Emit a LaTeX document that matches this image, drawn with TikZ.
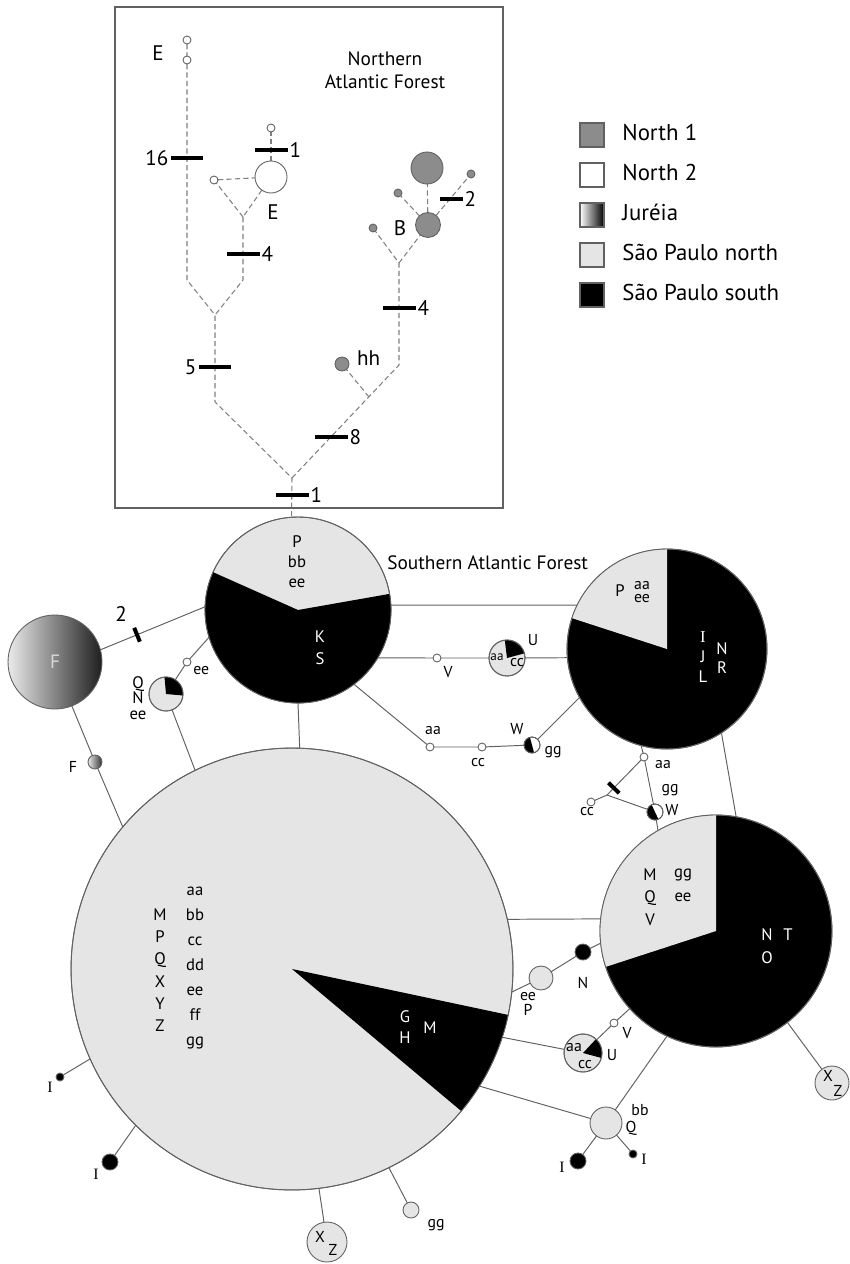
\documentclass[tikz,border=0pt]{standalone}
\usepackage{fontspec}
\setmainfont{PT Sans}
\newfontfamily\romanI{Liberation Serif}
\usetikzlibrary{positioning,backgrounds}

\definecolor{spnorth}{gray}{0.9}
\definecolor{north1}{gray}{0.55}
\definecolor{rim}{gray}{0.38}
\definecolor{treeline}{gray}{0.5}

\newcommand{\fbig}{\fontsize{12}{14}\selectfont}
\newcommand{\fmid}{\fontsize{11}{13}\selectfont}
\newcommand{\fkey}{\fontsize{13}{15}\selectfont}
\newcommand{\fin}{\fontsize{9.5}{12}\selectfont}
\newcommand{\fsm}{\fontsize{9}{10}\selectfont}
\newcommand{\pie}[5]{%
  \fill[#5] (#1.center) -- (#1.#2) arc[start angle=#2, end angle=#3, radius=#4*0.02cm] -- cycle;
  \draw[rim, line width=0.5pt] (#1.center) circle[radius=#4*0.02cm];}

\begin{document}
\begin{tikzpicture}[x=0.02cm, y=-0.02cm,
  hap/.style={circle, draw=rim, line width=0.5pt, inner sep=0pt, outer sep=0pt, minimum size=#1*0.04cm},
  mut/.style={fill=black, inner sep=0pt, outer sep=0pt, minimum width=0.66cm, minimum height=0.07cm},
  bar/.style={fill=black, inner sep=0pt, minimum width=0.08cm, minimum height=0.3cm, sloped},
  tree/.style={draw=treeline, line width=0.6pt, dash pattern=on 3pt off 1.8pt},
  link/.style={draw=rim, line width=0.55pt},
  num/.style={font=\fbig, inner sep=1pt},
  lbl/.style={font=\fsm, inner sep=0pt},
  inl/.style={font=\fin, inner sep=0pt, align=center},
  key/.style={draw=rim, line width=0.6pt, minimum size=0.48cm, inner sep=0pt},
  keytxt/.style={font=\fkey, inner sep=0pt, text height=9pt, text depth=2.5pt, right=0.35cm of #1}]
\useasboundingbox (0,0) rectangle (849,1264);

\draw[rim, line width=0.8pt] (115,7) rectangle (503,508);
\node[font=\fmid, align=center, inner sep=0pt] (north) at (385,70) {Northern\\Atlantic Forest};

% northern tree
\node[hap=4, fill=white] (e1) at (187,40) {};
\node[hap=4, fill=white] (e2) at (187,60) {};
\node[num] (le1) at (158,53) {E};
\node[mut, label={[num]left:16}] (m16) at (187,158) {};
\coordinate (j1) at (187,280);
\coordinate (j2) at (215,315);
\coordinate (j3) at (243,280);
\coordinate (j4) at (243,217);
\node[mut, label={[num]right:4}] (m4a) at (243,254) {};
\node[hap=4, fill=white] (sE) at (214,180) {};
\node[hap=16, fill=white] (bigE) at (271,177) {};
\node[num] (le2) at (273,212) {E};
\node[hap=4, fill=white] (sE1) at (271,128) {};
\node[mut, label={[num]right:1}] (m1a) at (271,150) {};
\coordinate (j5) at (215,402);
\node[mut, label={[num]left:5}] (m5) at (215,367) {};
\coordinate (root) at (292,478);
\node[mut, label={[num]right:1}] (m1b) at (292,495) {};
\node[mut, label={[num]right:8}] (m8) at (331,437) {};
\coordinate (hhj) at (369,397);
\node[hap=7, fill=north1] (hh) at (342,364) {};
\node[num, anchor=west] (lhh) at (355,358) {hh};
\coordinate (j6) at (399,365);
\node[mut, label={[num]right:4}] (m4b) at (399,308) {};
\coordinate (j7) at (399,263);
\node[hap=4, fill=north1] (sB1) at (373,228) {};
\node[hap=12.5, fill=north1] (nB) at (428,225) {};
\node[num] (lB) at (400,228) {B};
\node[hap=16, fill=north1] (bigB) at (427,168) {};
\node[hap=4, fill=north1] (sB2) at (398,193) {};
\node[hap=4, fill=north1] (sB3) at (471,174) {};
\node[mut, minimum width=0.46cm, label distance=0.22cm, label={[num]right:2}] (m2b) at (451,199) {};

% legend
\node[key, fill=north1] (k1) at (592,135) {};
\node[keytxt=k1] (t1) {North 1};
\node[key, fill=white] (k2) at (592,175) {};
\node[keytxt=k2] (t2) {North 2};
\node[key, left color=white, right color=black] (k3) at (592,215) {};
\node[keytxt=k3] (t3) {Juréia};
\node[key, fill=spnorth] (k4) at (592,255) {};
\node[keytxt=k4] (t4) {São Paulo north};
\node[key, fill=black] (k5) at (592,295) {};
\node[keytxt=k5] (t5) {São Paulo south};

% southern network
\node[hap=93, fill=spnorth] (A) at (298,610) {};
\node[hap=100, fill=black] (B) at (667,649) {};
\node[hap=221, fill=spnorth] (C) at (292,969) {};
\node[hap=116, fill=black] (D) at (716,931) {};
\node[hap=47, left color=black!8, right color=black!88] (F) at (55,662) {};
\node[hap=7, left color=black!8, right color=black!80] (fs) at (95,762) {};
\node[hap=4, fill=white] (see) at (187,662) {};
\node[hap=17, fill=spnorth] (qn) at (166,694) {};
\node[hap=4, fill=white] (v1) at (437,658) {};
\node[hap=18, fill=spnorth] (u1) at (507,658) {};
\node[hap=4, fill=white] (aa1) at (430,747) {};
\node[hap=4, fill=white] (cc1) at (482,747) {};
\node[hap=8, fill=white] (w1) at (532,745) {};
\node[hap=4, fill=white] (aa2) at (644,757) {};
\coordinate (jx) at (607,795);
\node[hap=4, fill=white] (cc2) at (591,802) {};
\node[hap=8, fill=white] (w2) at (655,812) {};
\node[hap=12, fill=spnorth] (pe) at (541,978) {};
\node[hap=8, fill=black] (nb) at (583,952) {};
\node[hap=19, fill=spnorth] (u2) at (583,1053) {};
\node[hap=4, fill=white] (vs) at (614,1023) {};
\node[hap=16, fill=spnorth] (q) at (606,1123) {};
\node[hap=8, fill=black] (ib) at (578,1161) {};
\node[hap=4, fill=black] (is) at (633,1154) {};
\node[hap=17, fill=spnorth] (xz1) at (832,1083) {};
\node[hap=4, fill=black] (ic1) at (60,1077) {};
\node[hap=8, fill=black] (ic2) at (110,1162) {};
\node[hap=20, fill=spnorth] (xz2) at (327,1242) {};
\node[hap=8, fill=spnorth] (gg) at (411,1210) {};

\pie{A}{156}{370}{93}{black}
\pie{B}{90}{162}{100}{spnorth}
\pie{C}{320}{348}{221}{black}
\pie{D}{90}{198}{116}{spnorth}
\pie{qn}{355}{455}{17}{black}
\pie{u1}{15}{97}{18}{black}
\pie{u2}{345}{407}{19}{black}
\pie{w1}{105}{285}{8}{black}
\pie{w2}{115}{295}{8}{black}

% labels
\node[font=\fmid, anchor=west, inner sep=0pt] (south) at (387,563) {Southern Atlantic Forest};
\node[inl, font={\fontsize{9.5}{11.3}\selectfont}] (la1) at (297,562) {P\\bb\\ee};
\node[inl, font={\fontsize{9.5}{12.5}\selectfont}, text=white] (la2) at (320,648) {K\\S};
\node[inl] (lb1) at (620,591) {P};
\node[inl, font={\fontsize{9}{7.5}\selectfont}] (lb2) at (642,592) {aa\\ee};
\node[inl, font={\fontsize{9.5}{11.3}\selectfont}, text=white] (lb3) at (703,657) {{\romanI I}\\J\\L};
\node[inl, font={\fontsize{9.5}{11.3}\selectfont}, text=white] (lb4) at (722,658) {N\\R};
\node[inl, font={\fontsize{9.5}{12.7}\selectfont}] (lc1) at (160,970) {M\\P\\Q\\X\\Y\\Z};
\node[inl, font={\fontsize{9.5}{14.2}\selectfont}] (lc2) at (195,968) {aa\\bb\\cc\\dd\\ee\\ff\\gg};
\node[inl, font={\fontsize{9.5}{12}\selectfont}, text=white] (lc3) at (405,1027) {G\\H};
\node[inl, text=white] (lc4) at (430,1028) {M};
\node[inl, font={\fontsize{9.5}{12.8}\selectfont}] (ld1) at (650,897) {M\\Q\\V};
\node[inl, font={\fontsize{9.5}{13.6}\selectfont}] (ld2) at (683,885) {gg\\ee};
\node[inl, font={\fontsize{9.5}{13}\selectfont}, text=white] (ld3) at (767,946) {N\\O};
\node[inl, text=white] (ld4) at (788,935) {T};
\node[font=\fmid, text=white!85!black, inner sep=0pt] (lf) at (55,662) {F};
\node[num, inner sep=0pt] (l2) at (121,614) {2};
\node[lbl, anchor=west] (lsee) at (193,671) {ee};
\node[inl, font={\fontsize{9.5}{9}\selectfont}] (lqn) at (138,698) {Q\\N\\ee};
\node[lbl] (lfs) at (73,767) {F};
\node[lbl] (lv1) at (448,672) {V};
\node[lbl, font=\fontsize{7.5}{8}\selectfont] (lu1a) at (497,657) {aa};
\node[lbl] (lu1b) at (517,663) {cc};
\node[lbl] (lu1c) at (533,640) {U};
\node[lbl] (laa1) at (433,731) {aa};
\node[lbl] (lcc1) at (478,763) {cc};
\node[lbl] (lw1a) at (517,729) {W};
\node[lbl] (lw1b) at (553,752) {gg};
\node[lbl] (laa2) at (663,765) {aa};
\node[lbl] (lcc2) at (587,812) {cc};
\node[lbl] (lw2a) at (670,790) {gg};
\node[lbl] (lw2b) at (672,810) {W};
\node[inl, font={\fontsize{9}{9}\selectfont}] (lpe) at (528,1004) {ee\\P};
\node[lbl] (lnb) at (583,983) {N};
\node[lbl] (lu2a) at (574,1048) {aa};
\node[lbl] (lu2b) at (585,1065) {cc};
\node[lbl] (lu2c) at (612,1055) {U};
\node[lbl] (lvs) at (627,1033) {V};
\node[lbl] (lq1) at (640,1110) {bb};
\node[lbl] (lq2) at (631,1128) {Q};
\node[lbl, font=\romanI\fsm] (lib) at (562,1167) {I};
\node[lbl, font=\romanI\fsm] (lis) at (644,1159) {I};
\node[lbl] (lx1) at (828,1076) {X};
\node[lbl] (lz1) at (838,1091) {Z};
\node[lbl, font=\romanI\fsm] (lic1) at (50,1087) {I};
\node[lbl, font=\romanI\fsm] (lic2) at (96,1174) {I};
\node[lbl] (lx2) at (320,1237) {X};
\node[lbl] (lz2) at (333,1250) {Z};
\node[lbl] (lgg) at (436,1225) {gg};

\begin{pgfonlayer}{background}
\draw[tree] (e1) -- (e2) -- (j1) -- (j2) -- (j5) -- (root) -- (A.94);
\draw[tree] (j4) -- (j3) -- (j2);
\draw[tree] (j4) -- (sE) -- (bigE) -- (j4);
\draw[tree] (bigE) -- (sE1);
\draw[tree] (root) -- (j6) -- (j7) -- (sB1);
\draw[tree] (j7) -- (nB) -- (bigB);
\draw[tree] (nB) -- (sB2);
\draw[tree] (nB) -- (sB3);
\draw[tree] (hhj) -- (hh);

\draw[link] (F.15) -- node[bar, pos=0.35] (m2) {} (A.178);
\draw[link] (A.3) -- (B.154);
\draw[link] (A.329) -- (v1) -- (u1) -- (B.185);
\draw[link] (A.307) -- (aa1) -- (cc1) -- (w1) -- (B.209);
\draw[link] (A.270) -- (C.88);
\draw[link] (A.197) -- (see) -- (qn) -- (C.116);
\draw[link] (F.291) -- (fs) -- (C.140);
\draw[link] (B.255) -- (aa2) -- (w2) -- (D.120);
\draw[link] (aa2) -- node[bar, pos=0.8] (m1c) {} (jx) -- (cc2);
\draw[link] (jx) -- (w2);
\draw[link] (B.303) -- (D.80);
\draw[link] (C.13) -- (D.174);
\draw[link] (C.354) -- (pe) -- (nb) -- (D.186);
\draw[link] (C.342) -- (u2) -- (vs) -- (D.222);
\draw[link] (C.328) -- (q) -- (D.245);
\draw[link] (q) -- (ib);
\draw[link] (q) -- (is);
\draw[link] (D.308) -- (xz1);
\draw[link] (C.204) -- (ic1);
\draw[link] (C.225) -- (ic2);
\draw[link] (C.277) -- (xz2);
\draw[link] (C.296) -- (gg);
\end{pgfonlayer}
\end{tikzpicture}
\end{document}
